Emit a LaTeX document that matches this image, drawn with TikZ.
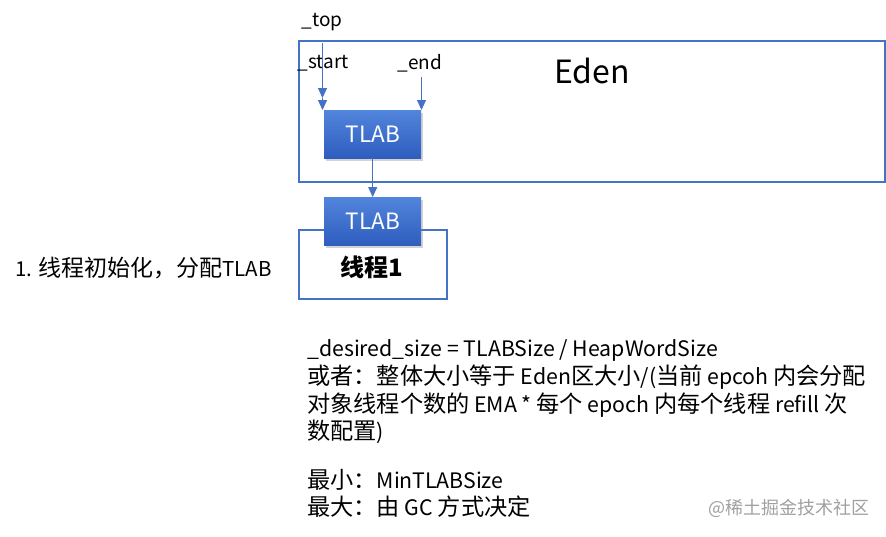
\documentclass[tikz,border=0pt]{standalone}
\usepackage{fontspec}
\setmainfont{Noto Sans CJK SC}
\usetikzlibrary{arrows.meta,shadows}
\definecolor{lineblue}{HTML}{4472C4}
\definecolor{tltop}{HTML}{5285DC}
\definecolor{tlbot}{HTML}{2E5DBE}
\definecolor{wmgray}{HTML}{A0A0A0}
\newcommand\zh[1]{{\fontsize{23.2}{26}\selectfont #1}}
\tikzset{
  frame/.style={draw=lineblue, line width=1.5pt, fill=white, minimum width=#1, anchor=north west, inner sep=0pt},
  tlab/.style={draw=none, top color=tltop, bottom color=tlbot, minimum width=97, minimum height=48, anchor=north west, inner sep=0pt,
    text=white, font=\fontsize{22.5}{24}\selectfont, drop shadow={shadow xshift=2pt, shadow yshift=-3pt, opacity=0.35}},
  arr/.style={draw=lineblue, line width=1pt, -{Triangle[width=9pt,length=10pt]}},
  lbl/.style={font=\fontsize{19}{22}\selectfont, inner sep=0pt},
  txt/.style={font=\fontsize{21.3}{22}\selectfont, inner sep=0pt, anchor=base west},
}
\begin{document}
\begin{tikzpicture}[x=1pt,y=-1pt]
\useasboundingbox (0,0) rectangle (886,536);
\node[frame=586, minimum height=141] (eden) at (298,40) {};
\node[font=\fontsize{32}{34}\selectfont, inner sep=0pt] (edenlbl) at (592,71) {Eden};
\node[lbl] (toplbl) at (322,22) {\_top};
\node[lbl] (startlbl) at (323,63) {\_start};
\node[lbl] (endlbl) at (420,63) {\_end};
\node[tlab] (tlab1) at (324,110) {TLAB};
\coordinate (topfrom) at (322.5,43);
\coordinate (topto) at (322.5,98);
\coordinate (startto) at (322.5,110);
\coordinate (endfrom) at (421.5,77);
\coordinate (endto) at (421.5,110);
\draw[arr] (topfrom) -- (topto);
\draw[arr] (topto) -- (startto);
\draw[arr] (endfrom) -- (endto);
\node[frame=148, minimum height=69] (thread) at (298,229) {};
\node[font=\fontsize{24}{26}\selectfont\bfseries, inner sep=0pt] (threadlbl) at (372,267) {线程1};
\node[tlab] (tlab2) at (324,197) {TLAB};
\draw[arr] (tlab1) -- (tlab2);
\node[txt, font=\fontsize{20.5}{22}\selectfont] (step1) at (15,276) {1. {\fontsize{23}{26}\selectfont 线程初始化，分配}TLAB};
\node[txt] (l1) at (307,356) {\_desired\_size = TLABSize / HeapWordSize};
\node[txt] (l2) at (307,384) {\zh{或者：整体大小等于} Eden\zh{区大小}/(\zh{当前} epcoh \zh{内会分配}};
\node[txt] (l3) at (307,412) {\zh{对象线程个数的} EMA * \zh{每个} epoch \zh{内每个线程} refill \zh{次}};
\node[txt] (l4) at (307,439) {\zh{数配置})};
\node[txt] (l5) at (307,488) {\zh{最小：}MinTLABSize};
\node[txt] (l6) at (307,515) {\zh{最大：由} GC \zh{方式决定}};
\node[font=\fontsize{18}{20}\selectfont, text=wmgray, inner sep=0pt, anchor=west] (wm) at (708,508) {@稀土掘金技术社区};
\end{tikzpicture}
\end{document}
